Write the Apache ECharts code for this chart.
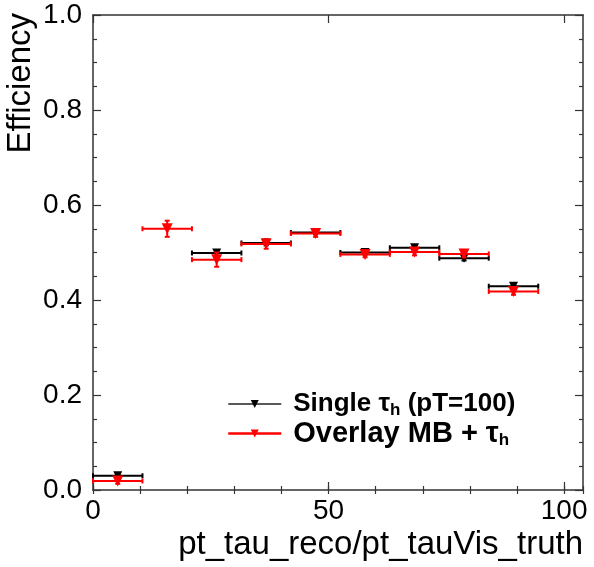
<!DOCTYPE html>
<html>
<head>
<meta charset="utf-8">
<script src="https://cdn.jsdelivr.net/npm/echarts@6/dist/echarts.min.js"></script>
<style>
  html, body { margin: 0; padding: 0; background: #fff; }
  #chart { width: 594px; height: 567px; }
</style>
</head>
<body>
<div id="chart"></div>
<script>
// Bin edges of the efficiency histograms (9 filled bins)
const binEdges = [0, 10.5, 21, 31.5, 42, 52.5, 63, 73.5, 84, 94.5];
// Single tau_h sample
const singleEff = [0.030, null, 0.499, 0.520, 0.542, 0.500, 0.510, 0.488, 0.429];
const singleErr = [0.004, null, 0.006, 0.005, 0.004, 0.004, 0.005, 0.005, 0.005];
// Overlay MB + tau_h sample
const overlayEff = [0.019, 0.550, 0.485, 0.518, 0.540, 0.496, 0.501, 0.497, 0.418];
const overlayErr = [0.006, 0.017, 0.015, 0.010, 0.007, 0.006, 0.007, 0.007, 0.007];
// Axis tick values
const xMajorTicks = [0, 50, 100];
const seriesNames = ['Single \u03c4h (pT=100)', 'Overlay MB + \u03c4h'];

const FONT = '"Liberation Sans", Arial, Helvetica, sans-serif';
const FRAME = '#333';
const BLACK = '#000';
const RED = '#ff0000';

function binRows(eff, err) {
  const rows = [];
  for (let i = 0; i < eff.length; i++) {
    if (eff[i] == null) continue;
    rows.push([binEdges[i], binEdges[i + 1], eff[i], err[i]]);
  }
  return rows;
}
function markerRows(eff) {
  return eff.map((v, i) => [(binEdges[i] + binEdges[i + 1]) / 2, v]);
}

// Horizontal bin-width bar + vertical error bar, both with small end caps
function errorBars(color, lw) {
  return function (params, api) {
    const lo = api.value(0), hi = api.value(1), y = api.value(2), e = api.value(3);
    const mid = (lo + hi) / 2;
    const pL = api.coord([lo, y]);
    const pR = api.coord([hi, y]);
    const pT = api.coord([mid, y + e]);
    const pB = api.coord([mid, y - e]);
    const cap = 2.5;
    const style = { stroke: color, lineWidth: lw, fill: null };
    const seg = (x1, y1, x2, y2) => ({ type: 'line', shape: { x1, y1, x2, y2 }, style });
    const children = [
      seg(pL[0], pL[1], pR[0], pR[1]),
      seg(pL[0], pL[1] - cap, pL[0], pL[1] + cap),
      seg(pR[0], pR[1] - cap, pR[0], pR[1] + cap)
    ];
    if (pB[1] - pT[1] > 1) {
      children.push(seg(pT[0], pT[1], pB[0], pB[1]));
      children.push(seg(pT[0] - cap, pT[1], pT[0] + cap, pT[1]));
      children.push(seg(pB[0] - cap, pB[1], pB[0] + cap, pB[1]));
    }
    return { type: 'group', children };
  };
}

const axisLineStyle = { color: FRAME, width: 1.5 };
const tickStyle = { color: FRAME, width: 1.2 };

function xAxisPair(position, withLabels) {
  return [
    {
      type: 'value', min: 0, max: 104, interval: 50, position,
      axisLine: { show: true, onZero: false, lineStyle: axisLineStyle },
      axisTick: { show: true, inside: true, length: 8, customValues: xMajorTicks, lineStyle: tickStyle },
      axisLabel: {
        show: withLabels, customValues: xMajorTicks,
        fontSize: 28, fontFamily: FONT, color: '#000', margin: 7
      },
      splitLine: { show: false }
    },
    {
      type: 'value', min: 0, max: 104, interval: 10, position,
      axisLine: { show: false },
      axisTick: { show: true, inside: true, length: 4, lineStyle: tickStyle },
      axisLabel: { show: false },
      splitLine: { show: false }
    }
  ];
}

function yAxisSide(position, withLabels) {
  return {
    type: 'value', min: 0, max: 1, interval: 0.2, position,
    axisLine: { show: true, onZero: false, lineStyle: axisLineStyle },
    axisTick: { show: true, inside: true, length: 8, lineStyle: tickStyle },
    minorTick: { show: true, splitNumber: 4, length: 4, lineStyle: tickStyle },
    axisLabel: {
      show: withLabels, fontSize: 28, fontFamily: FONT, color: '#000', margin: 11,
      formatter: v => v.toFixed(1)
    },
    splitLine: { show: false }
  };
}

const chart = echarts.init(document.getElementById('chart'), null, { renderer: 'canvas' });

chart.setOption({
  animation: false,
  backgroundColor: '#fff',
  grid: { left: 93, right: 11, top: 15, bottom: 77, containLabel: false, outerBoundsMode: 'none' },
  xAxis: [...xAxisPair('bottom', true), ...xAxisPair('top', false)],
  yAxis: [yAxisSide('left', true), yAxisSide('right', false)],
  legend: {
    orient: 'vertical', left: 222, top: 386,
    itemWidth: 53, itemHeight: 10, itemGap: 0,
    selectedMode: false,
    data: [
      { name: seriesNames[0], lineStyle: { color: '#222', width: 1.5, opacity: 1 }, itemStyle: { color: BLACK } },
      { name: seriesNames[1], lineStyle: { color: RED, width: 2.5, opacity: 1 }, itemStyle: { color: RED } }
    ],
    formatter: name => name === seriesNames[0]
      ? '{a|Single \u03c4}{as|h}{a| (pT=100)}'
      : '{b|Overlay MB + \u03c4}{bs|h}',
    textStyle: {
      padding: [0, 0, 0, 7],
      rich: {
        a: { fontSize: 26, fontWeight: 'bold', fontFamily: FONT, color: '#000', lineHeight: 30 },
        as: { fontSize: 17, fontWeight: 'bold', fontFamily: FONT, color: '#000', lineHeight: 12, verticalAlign: 'bottom' },
        b: { fontSize: 29, fontWeight: 'bold', fontFamily: FONT, color: '#000', lineHeight: 31 },
        bs: { fontSize: 17, fontWeight: 'bold', fontFamily: FONT, color: '#000', lineHeight: 12, verticalAlign: 'bottom' }
      }
    }
  },
  graphic: [
    {
      type: 'text', x: 21, y: 13, rotation: Math.PI / 2, silent: true,
      style: { text: 'Efficiency', fontSize: 33, fontFamily: FONT, fill: '#000', align: 'right', verticalAlign: 'middle' }
    },
    {
      type: 'text', x: 583, y: 545, silent: true,
      style: { text: 'pt_tau_reco/pt_tauVis_truth', fontSize: 33, fontFamily: FONT, fill: '#000', align: 'right', verticalAlign: 'middle' }
    }
  ],
  series: [
    {
      name: seriesNames[0], type: 'line', xAxisIndex: 0, yAxisIndex: 0, z: 3, silent: true,
      symbol: 'triangle', symbolRotate: 180, symbolSize: [9, 9], showAllSymbol: true,
      lineStyle: { opacity: 0 }, itemStyle: { color: BLACK }, connectNulls: false,
      data: markerRows(singleEff)
    },
    {
      name: seriesNames[1], type: 'line', xAxisIndex: 0, yAxisIndex: 0, z: 5, silent: true,
      symbol: 'triangle', symbolRotate: 180, symbolSize: [11, 11], showAllSymbol: true,
      lineStyle: { opacity: 0 }, itemStyle: { color: RED }, connectNulls: false,
      data: markerRows(overlayEff)
    },
    {
      name: seriesNames[0], type: 'custom', xAxisIndex: 0, yAxisIndex: 0, z: 2, silent: true,
      renderItem: errorBars(BLACK, 2), data: binRows(singleEff, singleErr)
    },
    {
      name: seriesNames[1], type: 'custom', xAxisIndex: 0, yAxisIndex: 0, z: 4, silent: true,
      renderItem: errorBars(RED, 2), data: binRows(overlayEff, overlayErr)
    }
  ]
});
</script>
</body>
</html>
